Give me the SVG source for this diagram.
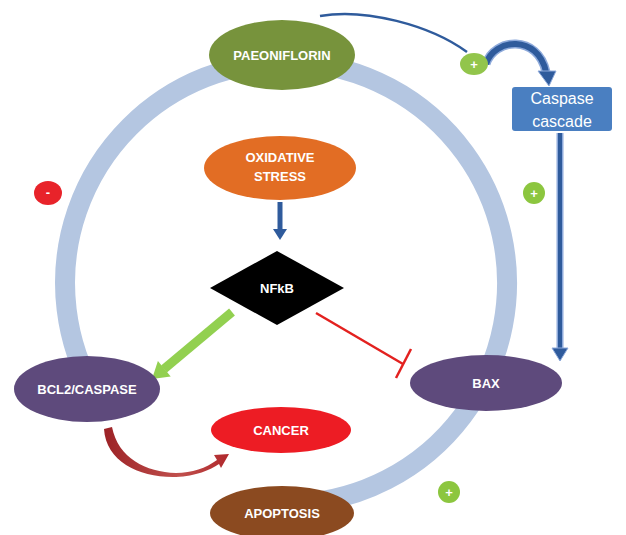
<svg xmlns="http://www.w3.org/2000/svg" width="626" height="535" viewBox="0 0 626 535">
<style>
.lbl{font-family:"Liberation Sans",Arial,sans-serif;font-weight:bold;font-size:13px;fill:#fff;text-anchor:middle}
.cap{font-family:"Liberation Sans",Arial,sans-serif;font-size:16px;fill:#fff;text-anchor:middle}
.sign{font-family:"Liberation Sans",Arial,sans-serif;font-weight:bold;font-size:13px;fill:#fff;text-anchor:middle}
.blue{stroke:#2f5b9c;fill:none}
</style>
<defs>
<linearGradient id="redg" x1="0" y1="0" x2="1" y2="0">
<stop offset="0" stop-color="#9c2226"/>
<stop offset="0.6" stop-color="#c0504d"/>
<stop offset="1" stop-color="#b0282c"/>
</linearGradient>
</defs>
<rect width="626" height="535" fill="#fff"/>
<g id="connectors">
<path d="M300,503.6 A221,221 0 1 0 95.5,395" fill="none" stroke="#b4c6e1" stroke-width="20"/>
<path d="M320,16 C365,8 430,25 467,52" class="blue" stroke-width="2.5"/>
<path d="M486,64 C494,38 538,34 546,72" fill="none" stroke="#8eaadb" stroke-width="9"/>
<path d="M486,64 C494,38 538,34 546,72" class="blue" stroke-width="6"/>
<polygon points="538,71 556,71 549,86" fill="#2f5b9c" stroke="#8eaadb" stroke-width="1"/>
<line x1="560" y1="133" x2="560" y2="350" stroke="#8eaadb" stroke-width="7"/>
<line x1="560" y1="133" x2="560" y2="350" stroke="#2f5b9c" stroke-width="4"/>
<polygon points="552,348 568,348 560,361" fill="#2f5b9c" stroke="#8eaadb" stroke-width="1"/>
<line x1="280" y1="202" x2="280" y2="230" stroke="#2f5b9c" stroke-width="5"/>
<polygon points="273,229 287,229 280,240" fill="#2f5b9c"/>
<line x1="232" y1="312" x2="164" y2="369" stroke="#92d050" stroke-width="9"/>
<polygon points="152,379 170.7,376.4 157.9,361" fill="#92d050"/>
<line x1="316" y1="313" x2="403" y2="364" stroke="#e3211f" stroke-width="2.5"/>
<line x1="411" y1="349" x2="396" y2="378" stroke="#e3211f" stroke-width="2.5"/>
<path d="M104,429 C106,462 140,478 176,477 C196,476 210,470 219,464 L221,468 L229,454 L214,455 L217,460 C206,468 192,473 176,473 C146,472 118,458 112,427 Z" fill="url(#redg)"/>
</g>
<g id="paeoniflorin">
<ellipse cx="282" cy="55" rx="73" ry="35" fill="#77933c"/>
<text x="282" y="60" class="lbl">PAEONIFLORIN</text>
</g>
<g id="plus-top">
<ellipse cx="474" cy="64" rx="14" ry="11" fill="#92c54b"/>
<text x="474" y="69" class="sign" font-weight="normal">+</text>
</g>
<g id="caspase-cascade">
<rect x="512" y="87" width="100" height="44" rx="3" fill="#4a7fc1"/>
<text x="562" y="104" class="cap">Caspase</text>
<text x="562" y="127" class="cap">cascade</text>
</g>
<g id="oxidative-stress">
<ellipse cx="280" cy="168" rx="76" ry="32" fill="#e26d24"/>
<text x="280" y="162" class="lbl">OXIDATIVE</text>
<text x="280" y="181" class="lbl">STRESS</text>
</g>
<g id="minus">
<ellipse cx="48" cy="193" rx="14" ry="12" fill="#e8232a"/>
<text x="48" y="197" class="sign">-</text>
</g>
<g id="plus-right">
<circle cx="534" cy="193" r="11" fill="#8cc63f"/>
<text x="534" y="198" class="sign">+</text>
</g>
<g id="nfkb">
<polygon points="277,251 344,288 277,325 210,288" fill="#000"/>
<text x="277" y="293" class="lbl">NFkB</text>
</g>
<g id="bcl2-caspase">
<ellipse cx="87" cy="389" rx="73" ry="33" fill="#5e4a7c"/>
<text x="87" y="394" class="lbl">BCL2/CASPASE</text>
</g>
<g id="bax">
<ellipse cx="486" cy="383" rx="76" ry="28" fill="#5e4a7c"/>
<text x="486" y="388" class="lbl">BAX</text>
</g>
<g id="cancer">
<ellipse cx="281" cy="430" rx="70" ry="23" fill="#ed1c24"/>
<text x="281" y="435" class="lbl">CANCER</text>
</g>
<g id="plus-bottom">
<circle cx="449" cy="492" r="11" fill="#8cc63f"/>
<text x="449" y="497" class="sign">+</text>
</g>
<g id="apoptosis">
<ellipse cx="282" cy="513" rx="72" ry="27" fill="#8b4a20"/>
<text x="282" y="518" class="lbl">APOPTOSIS</text>
</g>
</svg>
